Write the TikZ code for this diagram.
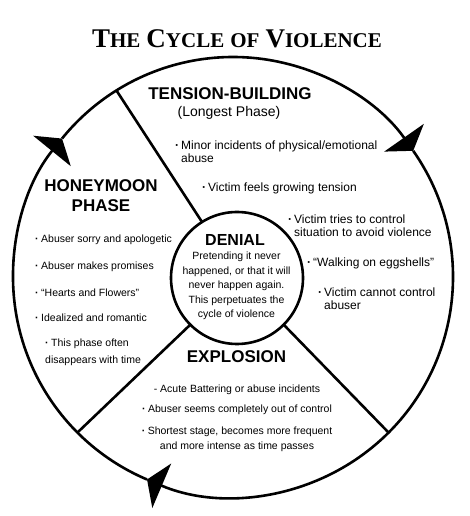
\documentclass[tikz,border=0pt]{standalone}
\usepackage{fontspec}
\setmainfont{Liberation Sans}
\newfontfamily\titlefont{Liberation Serif}
\usetikzlibrary{arrows.meta}

% big first letter, smaller rest (fake small caps)
\newcommand{\capsc}[2]{{\fontsize{27}{27}\selectfont #1}{\fontsize{21}{21}\selectfont #2}}
\newcommand{\bu}{\makebox[6pt][l]{\bfseries ·}}

\tikzset{
  heading/.style={font=\fontsize{17}{20}\selectfont\bfseries, anchor=base, inner sep=0pt},
  bigtext/.style={font=\fontsize{12}{13.5}\selectfont, anchor=base west, align=left, inner sep=0pt},
  smalltext/.style={font=\fontsize{10.5}{14.5}\selectfont, inner sep=0pt},
  cyclearc/.style={line width=2.6pt, -{Triangle[length=16pt,width=48pt]}},
  divider/.style={line width=2.6pt},
}

\begin{document}
\begin{tikzpicture}[x=1pt,y=1pt]
\useasboundingbox (0,0) rectangle (470,516);
    \node[font=\titlefont\bfseries\fontsize{21}{21}\selectfont, anchor=base, inner sep=0pt] (title) at (237,468)
        {\capsc{T}{HE}\hspace{6pt}\capsc{C}{YCLE}\hspace{6pt}OF\hspace{6pt}\capsc{V}{IOLENCE}};
  % outer cycle and the denial circle
    \node[circle, minimum size=440pt, inner sep=0pt, outer sep=0pt] (wheel) at (233,239) {};
    \node[circle, draw, line width=2.6pt, minimum size=132pt, inner sep=0pt, outer sep=0pt] (denial) at (237,238) {};
    \foreach \a/\b in {247/141,141/35,35/-113}
        \draw[cyclearc] (wheel.\a) arc[start angle=\a, end angle=\b, radius=220pt];
  % phase borders
    \draw[divider] (denial.122) -- (wheel.122);
    \draw[divider] (denial.225) -- (wheel.225);
    \draw[divider] (denial.315) -- (wheel.315);
  % tension-building (multi-line nodes sit on their last line)
    \node[heading] (tension) at (230,416) {TENSION-BUILDING};
    \node[font=\fontsize{14}{14}\selectfont, anchor=base, inner sep=0pt] (longest) at (229,399) {(Longest Phase)};
    \node[bigtext] (t1) at (175,353) {\bu Minor incidents of physical/emotional\\\hspace*{6pt}abuse};
    \node[bigtext] (t2) at (202,324) {\bu Victim feels growing tension};
    \node[bigtext] (t3) at (288,279) {\bu Victim tries to control\\\hspace*{6pt}situation to avoid violence};
    \node[bigtext] (t4) at (307,249) {\bu “Walking on eggshells”};
    \node[bigtext] (t5) at (318,206) {\bu Victim cannot control\\\hspace*{6pt}abuser};
  % honeymoon
    \node[heading, align=center] (honeymoon) at (101,304) {HONEYMOON\\PHASE};
    \node[smalltext, anchor=base west] (h1) at (35,273) {\bu Abuser sorry and apologetic};
    \node[smalltext, anchor=base west] (h2) at (35,246) {\bu Abuser makes promises};
    \node[smalltext, anchor=base west] (h3) at (35,219) {\bu “Hearts and Flowers”};
    \node[smalltext, anchor=base west] (h4) at (35,194) {\bu Idealized and romantic};
    \node[smalltext, anchor=base west, align=left, font=\fontsize{10.5}{17}\selectfont] (h5) at (45,152)
        {\bu This phase often\\disappears with time};
  % denial
    \node[heading, font=\fontsize{16}{16}\selectfont\bfseries] (denialhead) at (235,270) {DENIAL};
    \node[smalltext, anchor=base, align=center] (denialtext) at (236.5,198)
        {Pretending it never\\happened, or that it will\\never happen again.\\This perpetuates the\\cycle of violence};
  % explosion
    \node[heading] (explosion) at (236.5,153) {EXPLOSION};
    \node[smalltext, anchor=base] (e1) at (237,123) {- Acute Battering or abuse incidents};
    \node[smalltext, anchor=base] (e2) at (237,103) {\bu Abuser seems completely out of control};
    \node[smalltext, anchor=base, align=center, font=\fontsize{10.5}{15}\selectfont] (e3) at (237,66)
        {\bu Shortest stage, becomes more frequent\\and more intense as time passes};
\end{tikzpicture}
\end{document}
